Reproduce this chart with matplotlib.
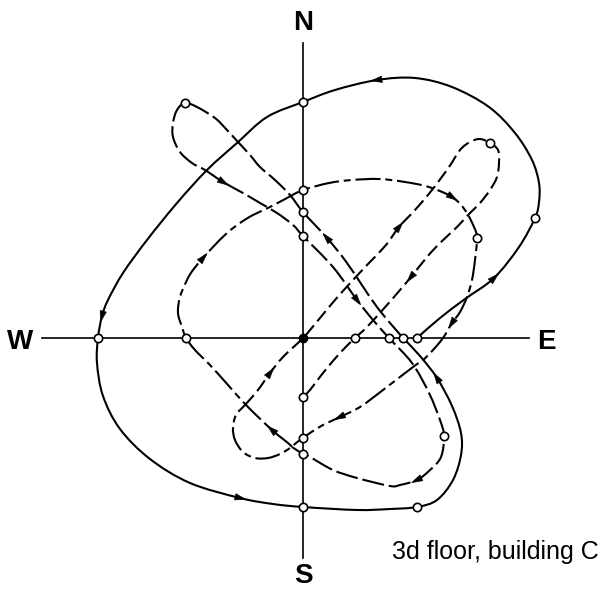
import numpy as np
import matplotlib
matplotlib.use("Agg")
import matplotlib.pyplot as plt
from matplotlib.path import Path
from matplotlib.patches import PathPatch, Polygon

plt.rcParams["lines.scale_dashes"] = False

# Floor orbit, (east, north) displacement in plot units, origin = rest position.
# The orbit is split where the line style changes.
orbit_solid = np.array([
    (114, 0), (137, 20), (162, 39), (191, 60), (216, 91), (232, 120),
    (236, 136), (236, 155), (229, 178), (212, 205), (186, 231), (149, 251),
    (112, 260), (74, 258), (32, 248), (0, 236), (-36, 221), (-66, 195),
    (-96, 168), (-126, 135), (-156, 98), (-180, 65), (-195, 38), (-201, 22),
    (-205, 0), (-206, -25), (-200, -58), (-183, -91), (-153, -121),
    (-113, -145), (-63, -160), (-30, -166), (0, -169), (54, -172),
    (87, -171), (114, -169), (134, -162), (150, -142), (158, -117),
    (158, -95), (149, -68), (134, -40), (117, -18), (100, 0),
])
solid_marks = [0, 5, 15, 24, 32, 35, 43]
solid_arrows = [3, 13, 23, 30, 41]

orbit_long = np.array([
    (100, 0), (74, 31), (44, 75), (24, 100), (0, 126), (-13, 143),
    (-28, 158), (-43, 171), (-53, 183), (-65, 196), (-76, 208), (-88, 220),
    (-106, 231), (-118, 235), (-126, 228), (-130, 215), (-130, 201),
    (-123, 186), (-111, 175), (-98, 168), (-80, 156), (-60, 145),
    (-43, 135), (-26, 125), (-10, 113), (0, 102), (30, 71), (54, 38),
    (70, 18), (86, 0), (109, -25), (126, -55), (137, -82), (141, -98),
    (138, -119), (127, -132), (114, -142), (97, -147), (87, -148),
    (54, -140), (30, -132), (7, -119), (0, -116), (-11, -109),
])
long_marks = [4, 13, 25, 29, 33, 42]
long_arrows = [3, 20, 27, 36]

orbit_dashdot = np.array([
    (-11, -109), (-15, -105), (-31, -92), (-56, -68), (-75, -47),
    (-93, -27), (-108, -12), (-117, 0), (-121, 11), (-125, 25), (-123, 41),
    (-116, 58), (-110, 68), (-100, 80), (-90, 91), (-76, 105), (-63, 115),
    (-50, 123), (-33, 131), (-16, 140), (0, 148), (26, 155), (49, 158),
    (76, 159), (102, 156), (126, 151), (149, 141), (162, 128), (171, 111),
    (174, 100), (172, 78), (169, 58), (164, 41), (157, 26), (149, 15),
    (140, 0), (130, -12), (120, -22), (110, -29), (80, -52), (57, -69),
    (37, -79), (20, -87), (7, -95), (0, -100), (-7, -105), (-13, -110),
    (-23, -116), (-35, -120), (-48, -120), (-60, -114), (-68, -102),
    (-70, -90), (-67, -77), (-58, -67),
])
dashdot_marks = [7, 20, 29, 44]
dashdot_arrows = [2, 13, 26, 34, 41]

orbit_dash = np.array([
    (-58, -67), (-45, -52), (-33, -35), (-20, -19), (0, 0), (17, 20),
    (32, 38), (50, 58), (66, 75), (83, 93), (96, 111), (112, 128),
    (129, 148), (146, 171), (157, 188), (167, 196), (177, 199), (187, 195),
    (195, 188), (196, 175), (194, 161), (187, 148), (177, 135), (167, 125),
    (154, 111), (137, 95), (124, 81), (108, 61), (97, 48), (84, 33),
    (64, 11), (52, 0), (37, -15), (20, -35), (7, -52), (0, -59),
])
dash_marks = [17, 31, 35]
dash_start = [4]
dash_arrows = [2, 10, 27]


def smooth_path(pts):
    """Cubic Bezier path through pts (Catmull-Rom tangents)."""
    pts = np.asarray(pts, float)
    tang = np.empty_like(pts)
    tang[1:-1] = (pts[2:] - pts[:-2]) / 2
    tang[0] = pts[1] - pts[0]
    tang[-1] = pts[-1] - pts[-2]
    verts = [pts[0]]
    codes = [Path.MOVETO]
    for i in range(len(pts) - 1):
        verts += [pts[i] + tang[i] / 3, pts[i + 1] - tang[i + 1] / 3, pts[i + 1]]
        codes += [Path.CURVE4] * 3
    return Path(verts, codes), tang


def arrowhead(ax, p, t, length=11.0, width=6.5):
    d = t / np.hypot(*t)
    n = np.array([-d[1], d[0]])
    tip = p + d * length * 0.55
    base = p - d * length * 0.45
    ax.add_patch(Polygon([tip, base + n * width / 2, base - n * width / 2],
                         closed=True, fc="black", ec="black", lw=0.4, zorder=4))


def draw_orbit(ax, pts, ls, marks, arrows, lw=1.5):
    path, tang = smooth_path(pts)
    ax.add_patch(PathPatch(path, fill=False, ec="black", lw=lw, ls=ls,
                           capstyle="butt", zorder=3))
    for i in arrows:
        arrowhead(ax, pts[i], tang[i])
    ax.plot(pts[marks, 0], pts[marks, 1], "o", ms=6, mfc="white", mec="black",
            mew=1.2, zorder=5)


fig = plt.figure(figsize=(6.04, 5.93), dpi=100)
ax = fig.add_axes([0, 0, 1, 1])
ax.set_xlim(-303, 301)
ax.set_ylim(-255, 338)
ax.axis("off")

# compass axes
ax.plot([-261, 226], [0, 0], color="black", lw=1.2, zorder=2)
ax.plot([0, 0], [-220, 295], color="black", lw=1.2, zorder=2)

draw_orbit(ax, orbit_solid, "-", solid_marks, solid_arrows)
draw_orbit(ax, orbit_long, (0, (16, 3.5)), long_marks, long_arrows)
draw_orbit(ax, orbit_dashdot, (0, (18, 3.5, 5, 3.5)), dashdot_marks,
           dashdot_arrows)
draw_orbit(ax, orbit_dash, (0, (9.5, 3.8)), dash_marks, dash_arrows)
ax.plot(orbit_dash[dash_start, 0], orbit_dash[dash_start, 1], "o", ms=6,
        color="black", zorder=6)

compass = dict(fontsize=20, fontweight="bold", ha="center", va="baseline",
               family=["Liberation Sans Narrow", "Liberation Sans"])
ax.text(0, 308, "N", **compass)
ax.text(0, -245, "S", **compass)
ax.text(-283, -11, "W", **compass)
ax.text(243, -11, "E", **compass)

ax.text(296, -221, "3d floor, building C", fontsize=18, ha="right",
        va="baseline", family="Liberation Sans")

fig.savefig("out.png", dpi=100)
